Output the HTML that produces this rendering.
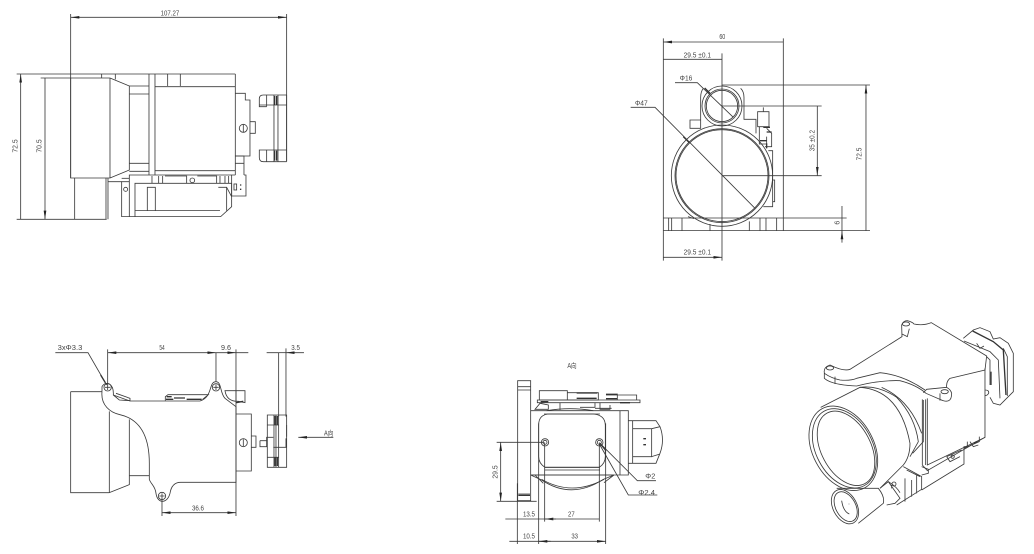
<!DOCTYPE html>
<html><head><meta charset="utf-8"><style>
html,body{margin:0;padding:0;background:#fff}
svg{display:block}
g.d{fill:none;stroke:#3a3a3a;stroke-width:2.5}
g.d .f{stroke-width:4;stroke:#333}
g.d .t{stroke-width:1.8;stroke:#666}
text{font-family:"Liberation Sans","Noto Sans CJK SC",sans-serif;font-size:21px;fill:#444;stroke:none;text-anchor:middle}
</style></head><body>
<svg width="1034" height="554" viewBox="0 0 1034 554" xmlns="http://www.w3.org/2000/svg">
<defs><marker id="a" markerUnits="userSpaceOnUse" viewBox="0 0 26 10" refX="26" refY="5" markerWidth="26" markerHeight="10" orient="auto-start-reverse"><path d="M0,1L26,5L0,9z" fill="#222"/></marker></defs>

<!-- View 1 -->
<g class="d" transform="scale(.3333)">
<path d="M212,52H860" marker-start="url(#a)" marker-end="url(#a)"/>
<path d="M212,42V534M860,42V484"/>
<path d="M62,222V658M135,234V658" marker-start="url(#a)" marker-end="url(#a)"/>
<path d="M50,222H706M122,234H330M50,658H320"/>
<path d="M212,234V534H330V234M330,234L388,258V510L330,534"/>
<path d="M346,222V238M305,222V234M388,258H447M388,282H447M388,490H447M388,514H447M447,222V525M465,222V525M503,222V258M541,222V258M465,260H706V512H465M706,222V525"/>
<path d="M224,534V658M318,534V658M324,534V658M324,545H365"/>
<path d="M706,280H736V300H750V468H706M736,300V280M750,365H766V400H750"/>
<circle cx="730" cy="385" r="12"/><path d="M730,374V396"/>
<path d="M706,468H732V525M706,490H732M732,525H738V588H695V525M706,525H388V528"/>
<path d="M388,528V545H365V650H662L695,620V550H405V632H660M405,550V650M442,562H466V632H442zM655,562H680V632M680,562L695,590M388,545V650"/>
<path d="M456,528V550M476,528V550M488,528V550M495,528H560V550M592,528H650V550M660,528V550M675,528V550M686,528V550"/>
<circle cx="577" cy="541" r="7"/><circle cx="377" cy="568" r="6"/>
<path d="M365,535H388"/><rect x="702" y="552" width="8" height="18"/><path class="f" d="M720,555h4M720,568h4"/>
<path d="M860,285H790Q778,285 778,296V320H800M860,315H778M860,485H790Q778,485 778,472V450H800M860,450H778M800,285V320M800,450V485M860,285V485M822,285V485M834,285V485"/>
<path class="f" d="M824,288V315M830,288V315M824,452V482M830,452V482"/>
<text x="510" y="46" textLength="56" lengthAdjust="spacingAndGlyphs">107.27</text>
<text transform="translate(53,438) rotate(-90)" textLength="40" lengthAdjust="spacingAndGlyphs">72.5</text>
<text transform="translate(125,438) rotate(-90)" textLength="40" lengthAdjust="spacingAndGlyphs">70.5</text>
</g>

<!-- View 2 -->
<g class="d" transform="translate(620,20) scale(.3333)">
<path d="M130,66H490M130,118H306M130,712H306" marker-start="url(#a)" marker-end="url(#a)"/>
<path d="M130,55V722M490,55V632M306,100V722"/>
<path d="M738,195V632M592,258V467" marker-start="url(#a)" marker-end="url(#a)"/>
<path d="M306,195H750M306,258H605M306,467H605M130,632H750M130,594H680"/>
<path d="M666,558V594M666,668V632" marker-end="url(#a)"/><path d="M666,594V632"/>
<path d="M165,188H232L340,292"/><path d="M32,262H105L405,565"/>
<path class="f" d="M254,204L270,220M190,350L208,368"/>
<circle cx="306" cy="258" r="60"/><circle cx="306" cy="258" r="51"/><circle cx="306" cy="258" r="47"/>
<circle cx="306" cy="467" r="152"/><circle cx="306" cy="467" r="141"/><circle cx="306" cy="467" r="138"/>
<path d="M250,205Q242,215 242,232V325H210V300H242M362,205Q372,215 372,232V298H408V340"/>
<path d="M413,275H447V320H413zM430,262V275M418,320V372H440V350M440,325L455,340V380H435"/>
<path class="f" d="M430,322H450M440,336H455M420,362H440M440,370V385"/>
<path d="M445,392H458V560H430M458,480H464V545H458"/>
<path d="M146,594V632M155,594V632M186,594V632M270,612V632M388,604V632M420,594V632M438,594V632M470,594V632M204,590L222,596"/>
<text x="307" y="57" textLength="18" lengthAdjust="spacingAndGlyphs">60</text>
<text x="232" y="112" textLength="82" lengthAdjust="spacingAndGlyphs">29.5 ±0.1</text>
<text x="232" y="704" textLength="82" lengthAdjust="spacingAndGlyphs">29.5 ±0.1</text>
<text x="198" y="181" textLength="38" lengthAdjust="spacingAndGlyphs">Φ16</text>
<text x="64" y="256" textLength="38" lengthAdjust="spacingAndGlyphs">Φ47</text>
<text transform="translate(584,362) rotate(-90)" textLength="64" lengthAdjust="spacingAndGlyphs">35 ±0.2</text>
<text transform="translate(724,402) rotate(-90)" textLength="38" lengthAdjust="spacingAndGlyphs">72.5</text>
<text transform="translate(659,608) rotate(-90)">6</text>
</g>

<!-- View 3 -->
<g class="d" transform="translate(30,330) scale(.3333)">
<path d="M233,68H558" marker-start="url(#a)" marker-end="url(#a)"/>
<path d="M558,68H655M590,68H618" marker-end="url(#a)"/>
<path d="M233,58V165M558,68V155M618,58V558M396,505V558M746,68V260M768,55V260"/>
<path d="M710,68H746M822,68H768" marker-end="url(#a)"/><path d="M746,68H768"/>
<path d="M396,548H618" marker-start="url(#a)" marker-end="url(#a)"/>
<path d="M76,68H174L230,165" /><path class="f" d="M212,135L226,158"/>
<path d="M910,322H805" marker-end="url(#a)"/>
<path d="M122,185H216M122,185V488H238M238,244V488M238,488L298,464V268M298,437H358"/>
<path d="M216,185C212,225 240,248 270,254C330,268 358,320 358,400V448C362,462 376,468 378,490C382,522 412,522 420,490C424,465 436,457 452,457H618V230L585,205C570,190 575,155 558,155C535,155 550,200 510,213H300L250,195C252,160 228,150 216,170V185"/>
<path d="M250,195L268,210L300,212V205L258,190"/>
<path d="M406,212V200L414,194H535L518,208"/><path class="f" d="M408,208H430M432,204H465M470,208H515M410,200H425"/>
<path d="M585,182H645V218L625,214Q590,215 585,182zM618,182V214"/><path class="f" d="M618,218L640,214"/>
<circle cx="233" cy="172" r="11"/><circle cx="558" cy="172" r="11"/><circle cx="396" cy="498" r="11"/>
<path d="M225,172H241M233,164V180M550,172H566M558,164V180M388,498H404M396,490V506"/>
<path d="M618,252H664V423H618"/>
<circle cx="640" cy="338" r="12"/><path d="M640,328V348"/>
<path d="M664,318H678V352H664M690,332H710V322M690,332V350H710V322H730"/>
<path d="M712,255H770V412H712zM732,255V412M738,255V412M746,255V412M768,325V352H730"/>
<path class="f" d="M735,258V285M735,382V408M742,258V285M742,382V408"/>
<path d="M712,285H746M712,382H746M770,285V320"/>
<text x="120" y="60" textLength="74" lengthAdjust="spacingAndGlyphs">3xΦ3.3</text>
<text x="396" y="60" textLength="16" lengthAdjust="spacingAndGlyphs">54</text>
<text x="588" y="60" textLength="30" lengthAdjust="spacingAndGlyphs">9.6</text>
<text x="797" y="60" textLength="26" lengthAdjust="spacingAndGlyphs">3.5</text>
<text x="504" y="541" textLength="36" lengthAdjust="spacingAndGlyphs">36.6</text>
<text x="896" y="316" textLength="28" lengthAdjust="spacingAndGlyphs">A向</text>
</g>

<!-- View 4 -->
<g class="d" transform="translate(480,350) scale(.3333)">
<path d="M113,92H152V452H113zM113,110H152M113,120H152M115,432H150"/><path class="f" d="M115,436H150"/>
<path d="M152,182H420V375H152M420,182V375H445V182H420"/>
<path d="M200,182Q270,170 340,182"/>
<path d="M176,225Q176,192 210,192H340Q375,195 376,225V320Q376,340 358,352H195Q176,340 176,320z"/>
<path d="M192,192H360M195,352H360M195,360H360"/>
<path d="M152,375H402L370,388Q275,450 185,390z"/>
<path d="M165,375L190,400M402,375L372,398M185,388Q275,440 372,388"/>
<path d="M178,122H262V150H178zM262,128H355V150H262zM378,132H412V150M412,135H470V150"/>
<path d="M172,150H480V158H172zM180,160L205,165V178H165zM240,158V180M300,158H345V172H300M360,158V178H390V165M345,175H395"/>
<path class="f" d="M290,129H352M290,145H350M378,134H412M378,146H412M182,155H205M420,158H450"/>
<path d="M445,212H528L540,230Q555,270 540,310L528,340H445M458,212V340M458,236H515V320H458M515,236L540,230M515,320L540,312"/>
<path class="f" d="M490,266h8M490,284h8"/>
<circle cx="195" cy="277" r="11"/><circle cx="195" cy="277" r="6"/>
<circle cx="358" cy="277" r="11"/><circle cx="358" cy="277" r="6"/>
<path d="M50,277H192M50,454H170M194,277V515M358,277V515M176,220V582M377,220V582M112,400V582"/>
<path d="M62,277V454" marker-start="url(#a)" marker-end="url(#a)"/>
<path d="M194,507H358M176,574H377" marker-start="url(#a)" marker-end="url(#a)"/>
<path d="M76,507H112M228,507H194M88,574H112M212,574H176" marker-end="url(#a)"/><path d="M112,507H194M112,574H176"/>
<path d="M360,280L472,392H528M358,282L445,435H532"/><path class="f" d="M360,280L378,302"/>
<text x="276" y="54" textLength="28" lengthAdjust="spacingAndGlyphs">A向</text>
<text transform="translate(53,366) rotate(-90)" textLength="40" lengthAdjust="spacingAndGlyphs">29.5</text>
<text x="147" y="500" textLength="36" lengthAdjust="spacingAndGlyphs">13.5</text>
<text x="274" y="500" textLength="20" lengthAdjust="spacingAndGlyphs">27</text>
<text x="147" y="566" textLength="36" lengthAdjust="spacingAndGlyphs">10.5</text>
<text x="284" y="566" textLength="20" lengthAdjust="spacingAndGlyphs">33</text>
<text x="511" y="385" textLength="30" lengthAdjust="spacingAndGlyphs">Φ2</text>
<text x="500" y="435" textLength="50" lengthAdjust="spacingAndGlyphs">Φ2.4</text>
</g>

<!-- View 5 -->
<g class="d" transform="translate(790,310) scale(.3333)">
<path d="M335,45Q340,32 352,32Q368,36 372,42Q400,48 424,38L590,138L585,180L480,205Q468,215 470,232M335,45L336,80L180,178Q160,185 120,165Q100,172 103,188V205Q125,225 200,228Q270,210 330,212Q380,225 408,250L450,268Q485,285 485,250Q482,238 470,232L410,238L400,248"/>
<path d="M336,72L352,80L358,56M103,190Q125,205 150,210Q180,213 200,205L270,188Q340,195 405,240M135,200V222"/>
<ellipse cx="348" cy="42" rx="11" ry="6"/><ellipse cx="120" cy="174" rx="11" ry="6"/><ellipse cx="464" cy="245" rx="11" ry="6"/>
<path d="M450,250V272M585,175V382L412,465V265"/>
<path d="M397,268V465L412,482L585,382M407,268V465"/>
<path class="f" d="M603,185V225"/>
<path d="M585,240Q598,240 596,250Q590,258 585,256"/>
<!-- rear connector -->
<path d="M520,85L550,60L570,53L600,65L610,87L630,83L655,100L670,130V245L650,265L630,285L610,280L600,262"/>
<path d="M522,93L600,125L625,150L630,265M640,115L652,140V258M560,100L570,115L582,108M590,140L600,150V225"/>
<path class="f" d="M548,63L610,95L640,120L648,255"/>
<!-- main lens -->
<ellipse cx="160" cy="415" rx="92" ry="135" transform="rotate(-28 160 415)"/>
<ellipse cx="163" cy="415" rx="85" ry="127" transform="rotate(-28 163 415)"/>
<ellipse cx="168" cy="415" rx="74" ry="120" transform="rotate(-28 168 415)"/>
<path d="M92,292L210,232Q330,240 360,400Q360,440 340,465L270,535"/>
<path d="M210,232Q265,225 320,262Q375,320 385,395L360,440M275,232Q360,270 395,370M400,270V395L368,430"/>
<!-- small lens -->
<path d="M140,535L265,535Q285,560 280,580L205,640"/>
<ellipse cx="165" cy="590" rx="36" ry="55" transform="rotate(-28 165 590)"/>
<ellipse cx="167" cy="590" rx="30" ry="48" transform="rotate(-28 167 590)"/>
<path d="M155,572Q160,605 178,612M176,582h2"/>
<path d="M270,535L295,515L330,565L315,580L290,585M295,515Q320,530 330,548M305,525V535"/>
<circle cx="312" cy="522" r="6"/>
<path d="M340,470L395,500V538L320,585M345,505V575M365,510V560M380,495V550M350,480L390,500"/>
<path d="M395,495L415,490V478L395,470"/>
<path d="M395,540L522,462V410H532V395M522,415L568,395V380M470,440L515,420M470,440L480,455L510,440M540,395L550,410L565,405"/>
<circle cx="488" cy="440" r="5"/>
<path class="f" d="M552,400L560,395"/>
</g>
</svg>
</body></html>
